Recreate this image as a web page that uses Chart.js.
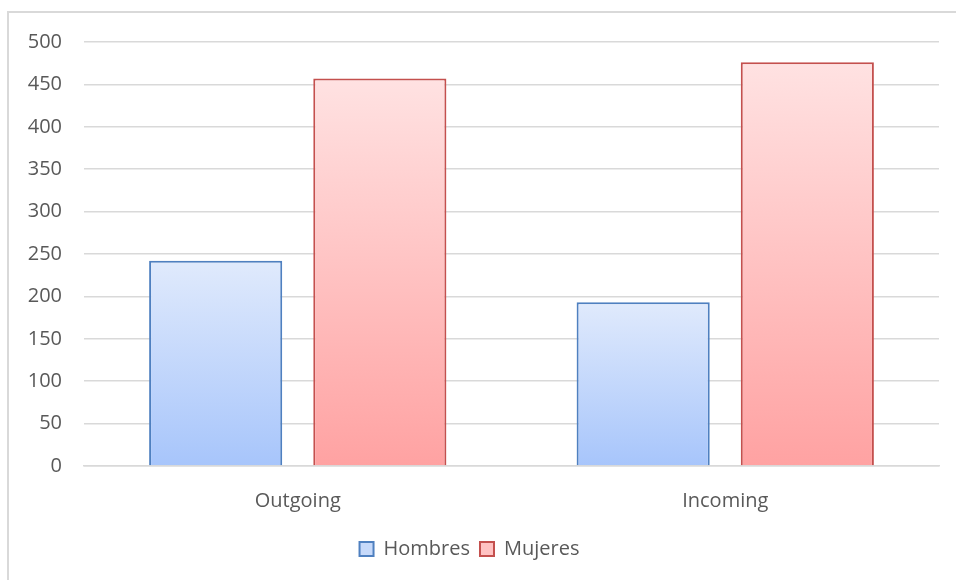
<!DOCTYPE html>
<html>
<head>
<meta charset="utf-8">
<script src="https://cdn.jsdelivr.net/npm/chart.js@4/dist/chart.umd.min.js"></script>
<style>
  html, body { margin: 0; padding: 0; background: #fff; overflow: hidden; }
  #wrap { position: relative; width: 956px; height: 580px; }
  #frame {
    position: absolute; left: 7px; top: 11px; width: 1000px; height: 700px;
    border: 2px solid #d9d9d9; box-sizing: border-box;
  }
  canvas { position: absolute; left: 0; top: 0; }
</style>
</head>
<body>
<div id="wrap">
  <div id="frame"></div>
  <canvas id="chartCanvas" width="956" height="580"></canvas>
</div>
<script>
const categories = ['Outgoing', 'Incoming'];
const hombres = [242, 193];
const mujeres = [457, 476];
const yTicks = [0, 50, 100, 150, 200, 250, 300, 350, 400, 450, 500];

const textColor = '#595959';
const gridColor = '#d9d9d9';

// vertical gradient per bar, light at the top, darker at the base
function barGradient(topColor, baseColor) {
  return (ctx) => {
    const chart = ctx.chart;
    if (!chart.chartArea || ctx.type !== 'data') return baseColor;
    const yScale = chart.scales.y;
    const value = ctx.dataset.data[ctx.dataIndex];
    const yTop = yScale.getPixelForValue(value);
    const yBase = yScale.getPixelForValue(0);
    const g = chart.ctx.createLinearGradient(0, yTop, 0, yBase);
    g.addColorStop(0, topColor);
    g.addColorStop(1, baseColor);
    return g;
  };
}

const legendFills = ['#c6d9fa', '#ffc2c2'];

new Chart(document.getElementById('chartCanvas'), {
  type: 'bar',
  data: {
    labels: categories,
    datasets: [
      {
        label: 'Hombres',
        data: hombres,
        backgroundColor: barGradient('#e0eafc', '#a7c5fb'),
        borderColor: '#4f80c0',
        borderWidth: 2
      },
      {
        label: 'Mujeres',
        data: mujeres,
        backgroundColor: barGradient('#ffe2e2', '#ffa2a2'),
        borderColor: '#c4504e',
        borderWidth: 2
      }
    ]
  },
  options: {
    responsive: false,
    animation: false,
    layout: { padding: { top: 42, right: 17, bottom: 11, left: 0 } },
    datasets: {
      bar: { categoryPercentage: 0.768, barPercentage: 0.811 }
    },
    plugins: {
      tooltip: { enabled: false },
      legend: {
        position: 'bottom',
        labels: {
          color: textColor,
          font: { family: 'Open Sans', size: 20 },
          boxWidth: 14,
          boxHeight: 14,
          padding: 10,
          generateLabels: (chart) =>
            Chart.defaults.plugins.legend.labels.generateLabels(chart).map((item, i) => ({
              ...item,
              fillStyle: legendFills[i]
            }))
        }
      }
    },
    scales: {
      x: {
        grid: { display: false, drawTicks: false },
        border: { display: true, color: gridColor, width: 1.5 },
        ticks: { color: textColor, font: { family: 'Open Sans', size: 20 }, padding: 23 },
        afterFit: (scale) => { scale.height = 63; }
      },
      y: {
        min: 0,
        max: 500,
        afterBuildTicks: (scale) => { scale.ticks = yTicks.map(v => ({ value: v })); },
        grid: { color: gridColor, lineWidth: 1.5, drawTicks: false },
        border: { display: false },
        ticks: { color: textColor, font: { family: 'Open Sans', size: 20 }, padding: 22 },
        afterFit: (scale) => { scale.width = 84; }
      }
    }
  }
});
</script>
</body>
</html>
